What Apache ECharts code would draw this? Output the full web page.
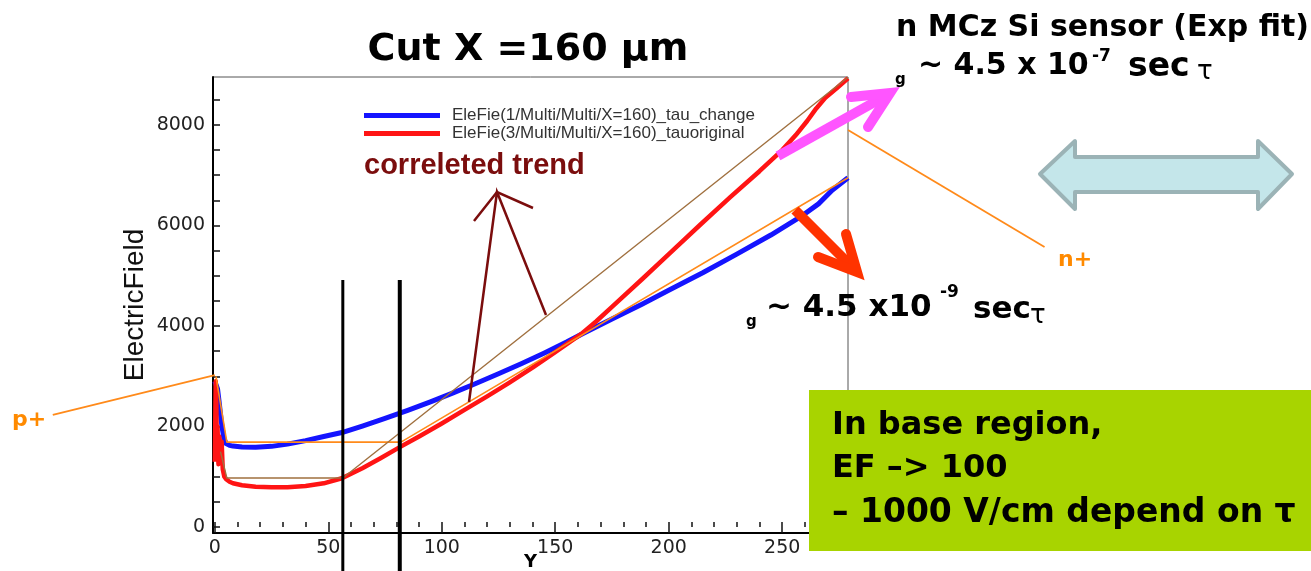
<!DOCTYPE html>
<html>
<head>
<meta charset="utf-8">
<script src="https://cdn.jsdelivr.net/npm/echarts@6/dist/echarts.min.js"></script>
<style>
  html, body { margin: 0; padding: 0; background: #fff; }
  #chart { width: 1311px; height: 571px; }
</style>
</head>
<body>
<div id="chart"></div>
<script>
// tick / label values
const xLabels = [0, 50, 100, 150, 200, 250];
const xMinorTicks = [0, 10, 20, 30, 40, 50, 60, 70, 80, 90, 100, 110, 120, 130, 140, 150, 160, 170, 180, 190, 200, 210, 220, 230, 240, 250, 260, 270];
const yLabels = [0, 2000, 4000, 6000, 8000];
const yTicks = [0, 500, 1000, 1500, 2000, 2500, 3000, 3500, 4000, 4500, 5000, 5500, 6000, 6500, 7000, 7500, 8000, 8500];

const nameChange = 'EleFie(1/Multi/Multi/X=160)_tau_change';
const nameOriginal = 'EleFie(3/Multi/Multi/X=160)_tauoriginal';

// electric field along Y, [Y, EF]
const tauChange = [
  [0, 2900], [0.5, 2880], [1.2, 2750], [2, 2450], [3, 2050], [4, 1760], [5, 1660], [6.5, 1625],
  [8, 1610], [12, 1592], [18, 1588], [25, 1605], [32, 1650], [40, 1720], [48, 1800], [56, 1880],
  [65, 2010], [75, 2160], [85, 2320], [95, 2490], [105, 2670], [115, 2855], [125, 3050],
  [135, 3250], [145, 3460], [155, 3680], [162, 3845], [175, 4140], [188, 4430], [200, 4710],
  [215, 5060], [230, 5430], [245, 5810], [258, 6170], [266, 6430], [272, 6700], [279, 6950]
];
const tauOriginal = [
  [0, 1300], [0.2, 2100], [0.4, 2900], [0.7, 2400], [0.9, 1400], [1.2, 2000], [1.6, 1250],
  [2, 1800], [2.5, 1500], [3, 1700], [3.5, 1150], [4.2, 1000], [5, 950], [6.5, 900], [8, 870],
  [12, 830], [18, 800], [25, 790], [32, 790], [40, 815], [48, 870], [56, 970],
  [65, 1170], [73, 1370], [81.5, 1590], [90, 1800], [100, 2060], [110, 2330], [120, 2600],
  [130, 2880], [140, 3170], [150, 3480], [162, 3860], [168, 4090], [175, 4380], [188, 4920],
  [201, 5470], [214, 6020], [227, 6560], [240, 7080], [250, 7500], [256, 7800], [261, 8080],
  [265, 8330], [269, 8540], [274, 8730], [279, 8930]
];

// hand drawn guide lines
const orangeGuide = [[0.5, 3000], [5.3, 1690], [82, 1690], [279, 6950]];
const pPointer = [[-71.4, 2230], [0, 3025]];
const nPointer = [[279, 7900], [365.6, 5572]];
const brownGuide = [[2.5, 1500], [5.3, 975], [56.4, 975], [279, 8950]];
const cutLineA = [[56.4, 4915], [56.4, -876]];
const cutLineB = [[81.5, 4915], [81.5, -876]];

const chart = echarts.init(document.getElementById('chart'));

const bold = (size) => 'bold ' + size + 'px "DejaVu Sans"';
function txt(text, x, y, font, fill, align) {
  return {
    type: 'text', x: x, y: y, z: 110,
    style: {
      text: text, font: font, fill: fill || '#000',
      align: align || 'left', verticalAlign: 'middle',
      textAlign: align || 'left', textVerticalAlign: 'middle'
    }
  };
}

const guide = (data, color, width) => ({
  type: 'line', data: data, symbol: 'none', clip: false, silent: true,
  lineStyle: { color: color, width: width }, z: 4
});

const option = {
  animation: false,
  backgroundColor: '#fff',
  grid: {
    left: 213, right: 463, top: 77, bottom: 38, outerBoundsMode: 'none',
    show: true, borderColor: '#555', borderWidth: 1
  },
  legend: {
    data: [nameChange, nameOriginal],
    orient: 'vertical', left: 359, top: 102, itemGap: 1,
    icon: 'rect', itemWidth: 76, itemHeight: 5,
    textStyle: { fontFamily: 'Liberation Sans', fontSize: 17, color: '#333', lineHeight: 17, padding: [0, 0, 0, 7] }
  },
  xAxis: [
    {
      type: 'value', min: -0.8, max: 279,
      name: 'Y', nameLocation: 'middle', nameGap: 20, nameMoveOverlap: false,
      nameTextStyle: { fontFamily: 'DejaVu Sans', fontWeight: 'bold', fontSize: 18, color: '#000' },
      axisLine: { show: true, onZero: false, lineStyle: { color: '#000', width: 2 } },
      axisTick: { show: true, inside: true, length: 10, customValues: xLabels, lineStyle: { color: '#111', width: 1.5 } },
      axisLabel: { customValues: xLabels, fontFamily: 'DejaVu Sans', fontSize: 19, color: '#222', margin: 6, formatter: (v) => String(v) },
      splitLine: { show: false }
    },
    {
      type: 'value', min: -0.8, max: 279, position: 'bottom',
      axisLine: { show: false },
      axisTick: { show: true, inside: true, length: 5, customValues: xMinorTicks, lineStyle: { color: '#111', width: 1.5 } },
      axisLabel: { show: false },
      splitLine: { show: false }
    }
  ],
  yAxis: {
    type: 'value', min: -119, max: 8955,
    name: 'ElectricField', nameLocation: 'middle', nameGap: 64, nameRotate: 90,
    nameTextStyle: { fontFamily: 'Liberation Sans', fontSize: 28, color: '#111' },
    axisLine: { show: true, onZero: false, lineStyle: { color: '#000', width: 2 } },
    axisTick: { show: true, inside: true, length: 7, customValues: yTicks, lineStyle: { color: '#111', width: 1.5 } },
    axisLabel: { customValues: yLabels, fontFamily: 'DejaVu Sans', fontSize: 19, color: '#222', margin: 8, formatter: (v) => String(v) },
    splitLine: { show: false }
  },
  series: [
    {
      name: nameChange, type: 'line', data: tauChange, symbol: 'none',
      lineStyle: { color: '#1414ff', width: 5, join: 'round' }, itemStyle: { color: '#1414ff' }, z: 2
    },
    {
      name: nameOriginal, type: 'line', data: tauOriginal, symbol: 'none',
      lineStyle: { color: '#ff1414', width: 4.5, join: 'round' }, itemStyle: { color: '#ff1414' }, z: 3
    },
    guide(orangeGuide, '#ff8a1a', 1.6),
    guide(brownGuide, '#a0703f', 1.4),
    guide(cutLineA, '#000', 3),
    guide(cutLineB, '#000', 4)
  ]
};

chart.setOption(option);

// pointer lines leave the plot area, so place them through the axes' own scale
const toPx = (p) => chart.convertToPixel({ xAxisIndex: 0, yAxisIndex: 0 }, p);
function pointer(pair) {
  const a = toPx(pair[0]);
  const b = toPx(pair[1]);
  return { type: 'line', z: 100, shape: { x1: a[0], y1: a[1], x2: b[0], y2: b[1] },
    style: { stroke: '#ff8a1a', lineWidth: 1.8 } };
}

chart.setOption({
  graphic: [
    txt('Cut X =160 μm', 528, 50, bold(38), '#000', 'center'),
    pointer(pPointer),
    pointer(nPointer),
    // correlated trend arrows
    txt('correleted trend', 364, 166, 'bold 29px "Liberation Sans"', '#7b0d0d'),
    { type: 'polyline', z: 100, shape: { points: [[469, 402], [497, 192], [546, 315]] },
      style: { stroke: '#7b0d0d', lineWidth: 2.5, fill: null } },
    { type: 'polyline', z: 100, shape: { points: [[474, 221], [497, 192], [533, 208]] },
      style: { stroke: '#7b0d0d', lineWidth: 2.5, fill: null } },
    // magenta arrow
    { type: 'line', z: 100, shape: { x1: 778, y1: 156, x2: 889, y2: 94 },
      style: { stroke: '#ff55ff', lineWidth: 10, lineCap: 'butt' } },
    { type: 'polyline', z: 100, shape: { points: [[851, 97], [890, 93], [868, 127]] },
      style: { stroke: '#ff55ff', lineWidth: 10, fill: null, lineJoin: 'miter', lineCap: 'round' } },
    // red arrow
    { type: 'line', z: 100, shape: { x1: 795, y1: 210, x2: 855, y2: 270 },
      style: { stroke: '#ff3300', lineWidth: 10, lineCap: 'butt' } },
    { type: 'polyline', z: 100, shape: { points: [[818, 257], [857, 272], [846, 234]] },
      style: { stroke: '#ff3300', lineWidth: 10, fill: null, lineJoin: 'miter', lineCap: 'round' } },
    // top right annotation
    txt('n MCz Si sensor (Exp fit)', 896, 28, bold(30)),
    txt('g', 895, 80, bold(15)),
    txt('~ 4.5 x 10', 918, 66, bold(30)),
    txt('-7', 1092, 57, bold(17)),
    txt('sec', 1128, 67, bold(33)),
    txt('τ', 1197, 72, '26px "DejaVu Sans"'),
    // lower annotation
    txt('g', 746, 322, bold(15)),
    txt('~ 4.5 x10', 766, 308, bold(31)),
    txt('-9', 940, 293, bold(17)),
    txt('sec', 973, 310, bold(31)),
    txt('τ', 1030, 316, '26px "DejaVu Sans"'),
    txt('n+', 1058, 260, bold(22), '#ff8a00'),
    txt('p+', 12, 420, bold(22), '#ff8a00'),
    // double arrow
    { type: 'polygon', z: 100,
      shape: { points: [[1040, 174], [1075, 141], [1075, 157], [1258, 157], [1258, 141], [1292, 174], [1258, 209], [1258, 192], [1075, 192], [1075, 209]] },
      style: { fill: '#c4e6ea', stroke: '#9bb3b6', lineWidth: 4, lineJoin: 'round' } },
    // green note
    { type: 'rect', z: 105, shape: { x: 809, y: 390, width: 510, height: 161 }, style: { fill: '#a8d400' } },
    txt('In base region,', 832, 426, bold(32)),
    txt('EF –> 100', 832, 469, bold(32)),
    txt('– 1000 V/cm depend on τ', 832, 513, bold(33))
  ]
});
</script>
</body>
</html>
